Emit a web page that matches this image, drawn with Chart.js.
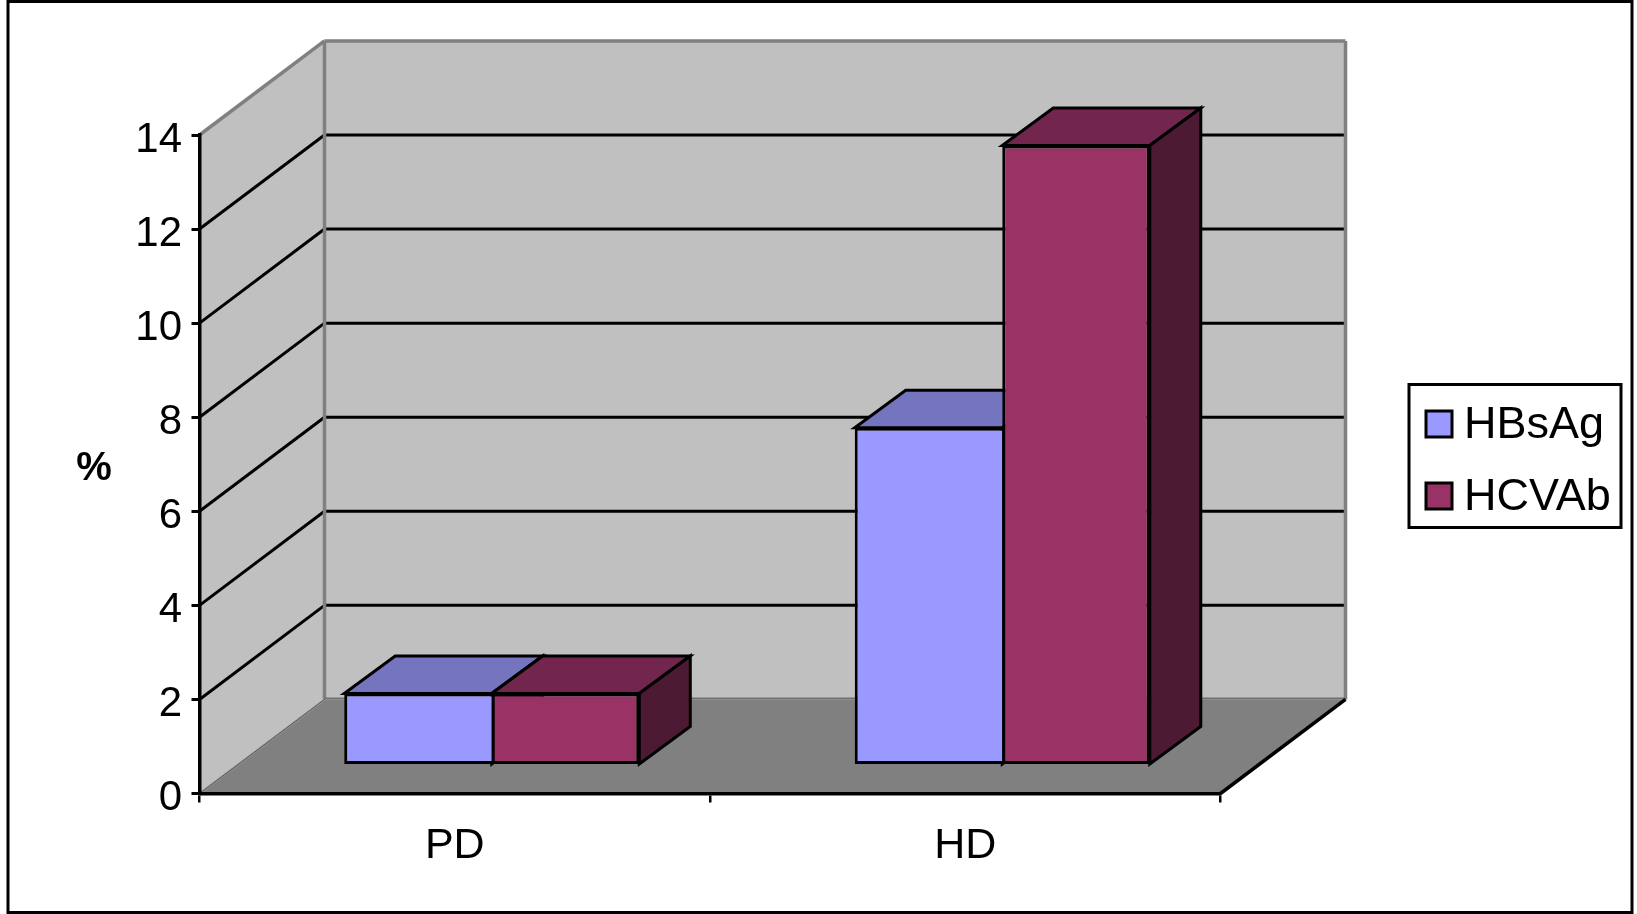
<!DOCTYPE html>
<html>
<head>
<meta charset="utf-8">
<title>HBsAg and HCVAb</title>
<script src="https://cdn.jsdelivr.net/npm/chart.js@4/dist/chart.umd.min.js"></script>
<style>
  html, body { margin: 0; padding: 0; background: #fff; }
  canvas { display: block; }
</style>
</head>
<body>
<canvas id="hepatitisChart" width="1637" height="914"></canvas>
<script>
const categories = ['PD', 'HD'];
const hbsagValues = [1.53, 7.18];
const hcvabValues = [1.53, 13.18];
const seriesNames = ['HBsAg', 'HCVAb'];
const yTicks = [0, 2, 4, 6, 8, 10, 12, 14];

const FONT = '"Liberation Sans", Arial, sans-serif';
const frontColors = ['#9999FF', '#993366'];
const topColors = ['#7575BF', '#73264D'];
const sideColors = ['#4D1A33', '#4D1A33'];

// Depth of the floor and of the bars, in px
const WALL_DX = 125;
const BAR_SHIFT_X = 37;
const BAR_SHIFT_Y = -28;
const BAR_DX = 51;
const BAR_DY = 37.5;

function polygon(ctx, points, fill, stroke, width) {
  ctx.beginPath();
  points.forEach((p, i) => (i ? ctx.lineTo(p[0], p[1]) : ctx.moveTo(p[0], p[1])));
  ctx.closePath();
  if (fill) {
    ctx.fillStyle = fill;
    ctx.fill();
  }
  if (stroke) {
    ctx.strokeStyle = stroke;
    ctx.lineWidth = width;
    ctx.lineJoin = 'miter';
    ctx.stroke();
  }
}

function segment(ctx, x1, y1, x2, y2, color, width) {
  ctx.beginPath();
  ctx.moveTo(x1, y1);
  ctx.lineTo(x2, y2);
  ctx.strokeStyle = color;
  ctx.lineWidth = width;
  ctx.stroke();
}

// Back wall, side wall, floor and the gridlines running around them
const wallsPlugin = {
  id: 'walls',
  beforeDraw(chart) {
    const { ctx, scales } = chart;
    const left = scales.x.left;
    const right = scales.x.right;
    const y0 = scales.y.getPixelForValue(0);
    const yTop = scales.y.getPixelForValue(14);
    const wallDy = y0 - scales.y.getPixelForValue(2);
    const backLeft = left + WALL_DX;
    const backRight = right + WALL_DX;

    ctx.save();
    polygon(ctx, [[backLeft, yTop - wallDy], [backRight, yTop - wallDy], [backRight, y0 - wallDy], [backLeft, y0 - wallDy]], '#C0C0C0');
    polygon(ctx, [[left, yTop], [backLeft, yTop - wallDy], [backLeft, y0 - wallDy], [left, y0]], '#C0C0C0');
    polygon(ctx, [[left, y0], [backLeft, y0 - wallDy], [backRight, y0 - wallDy], [right, y0]], '#808080');

    yTicks.filter(v => v > 0 && v < 14).forEach(v => {
      const py = scales.y.getPixelForValue(v);
      segment(ctx, left, py, backLeft, py - wallDy, '#000', 3);
      segment(ctx, backLeft, py - wallDy, backRight, py - wallDy, '#000', 3);
    });

    // Wall edges
    segment(ctx, left, yTop, backLeft, yTop - wallDy, '#808080', 3.5);
    segment(ctx, backLeft, yTop - wallDy, backRight, yTop - wallDy, '#808080', 3.5);
    segment(ctx, backLeft, yTop - wallDy, backLeft, y0 - wallDy, '#808080', 3.5);
    segment(ctx, backRight, yTop - wallDy, backRight, y0 - wallDy, '#808080', 3.5);
    segment(ctx, backLeft, y0 - wallDy - 1, backRight, y0 - wallDy - 1, '#707070', 2);
    segment(ctx, left + 1, y0 - 1, backLeft, y0 - wallDy, '#A0A0A0', 2);
    segment(ctx, left, y0, backLeft, y0 - wallDy, '#555', 1);
    segment(ctx, right, y0, backRight, y0 - wallDy, '#000', 3.5);
    ctx.restore();
  }
};

// Bars stand back from the front plane, so the whole dataset pass is shifted.
// Top and side faces go down first, series by series, then the library draws the fronts.
const depthPlugin = {
  id: 'barDepth',
  beforeDatasetsDraw(chart) {
    const { ctx } = chart;
    ctx.save();
    ctx.translate(BAR_SHIFT_X, BAR_SHIFT_Y);
    seriesNames.forEach((name, idx) => {
      chart.getDatasetMeta(idx).data.forEach(bar => {
        const { x, y, base, width } = bar.getProps(['x', 'y', 'base', 'width'], true);
        const l = x - width / 2;
        const r = x + width / 2;
        polygon(ctx, [[l, y], [r, y], [r + BAR_DX, y - BAR_DY], [l + BAR_DX, y - BAR_DY]], topColors[idx], '#000', 3);
        polygon(ctx, [[r, y], [r + BAR_DX, y - BAR_DY], [r + BAR_DX, base - BAR_DY], [r, base]], sideColors[idx], '#000', 3);
      });
    });
  },
  afterDatasetsDraw(chart) {
    chart.ctx.restore();
  }
};

// Value labels, legend box, the % label and the outer frame
const framePlugin = {
  id: 'frame',
  afterDraw(chart) {
    const { ctx, scales } = chart;
    ctx.save();
    ctx.strokeStyle = '#000';
    ctx.lineWidth = 3;
    ctx.strokeRect(8, 1.5, 1624, 911);

    ctx.fillStyle = '#000';
    ctx.font = '42px ' + FONT;
    ctx.textAlign = 'right';
    ctx.textBaseline = 'middle';
    yTicks.forEach(v => ctx.fillText(String(v), 182, scales.y.getPixelForValue(v) + 5));

    ctx.lineWidth = 3;
    ctx.strokeRect(1409, 384.5, 212, 143);
    seriesNames.forEach((name, i) => {
      const rowY = 424 + i * 72;
      ctx.fillStyle = frontColors[i];
      ctx.fillRect(1426, rowY - 13, 26, 26);
      ctx.strokeRect(1426, rowY - 13, 26, 26);
      ctx.fillStyle = '#000';
      ctx.font = '45px ' + FONT;
      ctx.textAlign = 'left';
      ctx.textBaseline = 'middle';
      ctx.fillText(name, 1464, rowY + 2);
    });

    ctx.font = 'bold 40px ' + FONT;
    ctx.textAlign = 'center';
    ctx.fillText('%', 94, 469);
    ctx.restore();
  }
};

new Chart(document.getElementById('hepatitisChart').getContext('2d'), {
  type: 'bar',
  data: {
    labels: categories,
    datasets: [
      // The shared edge between the two bars comes from the second series only
      { label: seriesNames[0], data: hbsagValues, backgroundColor: frontColors[0], borderWidth: { top: 3, left: 3, bottom: 3, right: 0 } },
      { label: seriesNames[1], data: hcvabValues, backgroundColor: frontColors[1], borderWidth: 3 }
    ]
  },
  options: {
    responsive: false,
    animation: false,
    layout: { padding: { left: 99.5, right: 416.5, top: 135, bottom: 20.5 } },
    datasets: {
      bar: {
        categoryPercentage: 0.578,
        barPercentage: 1,
        borderColor: '#000',
        borderSkipped: false
      }
    },
    plugins: {
      legend: { display: false },
      tooltip: { enabled: false }
    },
    scales: {
      x: {
        afterFit: s => { s.height = 100; },
        grid: { drawOnChartArea: false, color: '#000', lineWidth: 2.5, tickLength: 9 },
        border: { color: '#000', width: 3.5 },
        ticks: { color: '#000', font: { family: FONT, size: 43 }, padding: 18 }
      },
      y: {
        min: 0,
        max: 14,
        afterFit: s => { s.width = 100; },
        afterBuildTicks: s => { s.ticks = yTicks.map(value => ({ value })); },
        grid: { drawOnChartArea: false, color: '#000', lineWidth: 3, tickLength: 8 },
        border: { color: '#000', width: 3.5 },
        ticks: { display: false }
      }
    }
  },
  plugins: [wallsPlugin, depthPlugin, framePlugin]
});
</script>
</body>
</html>
